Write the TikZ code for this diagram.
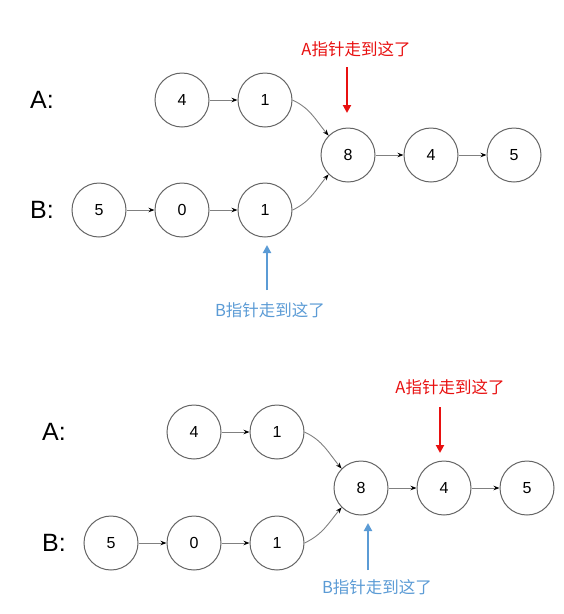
\documentclass[tikz,border=0pt]{standalone}
\usepackage{fontspec}
\setmainfont{Liberation Sans}
\newfontfamily\cjk{Noto Sans CJK SC}
\usetikzlibrary{positioning,arrows.meta}
\definecolor{ptrred}{RGB}{232,16,16}
\definecolor{ptrblue}{RGB}{91,155,213}
\definecolor{ringgray}{RGB}{100,100,100}

\begin{document}
\begin{tikzpicture}[
    x=1pt, y=-1pt,
    node distance=83pt,
    elem/.style={circle, draw=ringgray, line width=1pt, minimum size=54pt, inner sep=0pt, font=\fontsize{16}{16}\selectfont},
    listname/.style={font=\fontsize{25}{25}\selectfont},
    ptrtext/.style={font=\cjk\fontsize{16.5}{16.5}\selectfont},
    link/.style={-{Stealth[length=6pt,width=4.5pt,color=black]}, draw=gray, line width=0.9pt},
    ptr/.style={-{Triangle[length=8pt,width=8pt]}, line width=2pt}
]
\useasboundingbox (0,0) rectangle (564,614);

% Top: list names
\node[listname] (ulabA) at (42,100) {A:};
\node[listname] (ulabB) at (42,210) {B:};

% Top: list A
\node[elem] (ua1) at (182,100) {4};
\node[elem, right of=ua1] (ua2) {1};

% Top: list B
\node[elem] (ub1) at (99,210) {5};
\node[elem, right of=ub1] (ub2) {0};
\node[elem, right of=ub2] (ub3) {1};

% Top: common part
\node[elem] (uc1) at (348,155) {8};
\node[elem, right of=uc1] (uc2) {4};
\node[elem, right of=uc2] (uc3) {5};

% Top: pointers
\node[ptrtext, text=ptrred] (uptrA) at (356,49) {A指针走到这了};
\coordinate (uheadA) at (347,67);
\coordinate (utipA) at (347,113);
\node[ptrtext, text=ptrblue] (uptrB) at (270,310) {B指针走到这了};
\coordinate (uheadB) at (267,290);
\coordinate (utipB) at (267,245);

% Top: connections
\draw[link] (ua1) -- (ua2);
\draw[link] (ub1) -- (ub2);
\draw[link] (ub2) -- (ub3);
\draw[link] (ua2.east) to[out=-25, in=130] (uc1.north west);
\draw[link] (ub3.east) to[out=25, in=-130] (uc1.south west);
\draw[link] (uc1) -- (uc2);
\draw[link] (uc2) -- (uc3);
\draw[ptr, ptrred] (uheadA) -- (utipA);
\draw[ptr, ptrblue] (uheadB) -- (utipB);

% Bottom: list names
\node[listname] (llabA) at (54,432) {A:};
\node[listname] (llabB) at (54,543) {B:};

% Bottom: list A
\node[elem] (la1) at (194,432) {4};
\node[elem, right of=la1] (la2) {1};

% Bottom: list B
\node[elem] (lb1) at (111,543) {5};
\node[elem, right of=lb1] (lb2) {0};
\node[elem, right of=lb2] (lb3) {1};

% Bottom: common part
\node[elem] (lc1) at (361,488) {8};
\node[elem, right of=lc1] (lc2) {4};
\node[elem, right of=lc2] (lc3) {5};

% Bottom: pointers
\node[ptrtext, text=ptrred] (lptrA) at (450,387) {A指针走到这了};
\coordinate (lheadA) at (440,407);
\coordinate (ltipA) at (440,453);
\node[ptrtext, text=ptrblue] (lptrB) at (377,587) {B指针走到这了};
\coordinate (lheadB) at (368,570);
\coordinate (ltipB) at (368,523);

% Bottom: connections
\draw[link] (la1) -- (la2);
\draw[link] (lb1) -- (lb2);
\draw[link] (lb2) -- (lb3);
\draw[link] (la2.east) to[out=-25, in=130] (lc1.north west);
\draw[link] (lb3.east) to[out=25, in=-130] (lc1.south west);
\draw[link] (lc1) -- (lc2);
\draw[link] (lc2) -- (lc3);
\draw[ptr, ptrred] (lheadA) -- (ltipA);
\draw[ptr, ptrblue] (lheadB) -- (ltipB);

\end{tikzpicture}
\end{document}
